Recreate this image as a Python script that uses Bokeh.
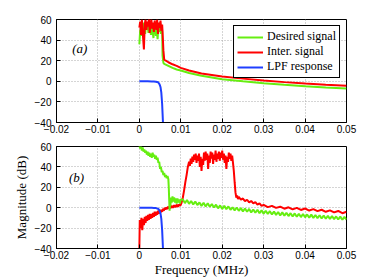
from bokeh.plotting import figure
from bokeh.models import Range1d, Legend, LegendItem
from bokeh.layouts import column
from bokeh.core.properties import value
from bokeh.embed import file_html
from bokeh.resources import INLINE

# ---------------- data ----------------
x_ticks = [-0.02, -0.01, 0.0, 0.01, 0.02, 0.03, 0.04, 0.05]
x_tick_labels = ["\u22120.02", "\u22120.01", "0", "0.01", "0.02", "0.03", "0.04", "0.05"]
y_ticks = [-40, -20, 0, 20, 40, 60]
y_tick_labels = ["\u221240", "\u221220", "0", "20", "40", "60"]

series_names = ["Desired signal", "Inter. signal", "LPF response"]
panel_labels = ["(a)", "(b)"]
panel_label_x = [-0.0162, -0.0170]
panel_label_y = [32, 30]

# panel (a): desired signal (frequency MHz, magnitude dB)
a_desired = [(0.0000, 36), (0.0002, 50), (0.0004, 44), (0.0006, 55), (0.0008, 49), (0.0010, 57),
             (0.0012, 52), (0.0014, 46), (0.0016, 56), (0.0018, 50), (0.0020, 54), (0.0022, 47),
             (0.0024, 57), (0.0026, 51), (0.0028, 45), (0.0030, 55), (0.0032, 49), (0.0034, 42),
             (0.0036, 53), (0.0038, 56), (0.0040, 44), (0.0042, 50), (0.0044, 41), (0.0046, 54),
             (0.0048, 48), (0.0050, 57), (0.0052, 46), (0.0054, 52), (0.0055, 49), (0.0056, 25),
             (0.0058, 18), (0.0060, 17), (0.0070, 15), (0.0080, 13), (0.0090, 11.5), (0.0100, 10.5),
             (0.0120, 8), (0.0150, 5.3), (0.0200, 2), (0.0250, 0), (0.0300, -1.8), (0.0350, -3.4),
             (0.0400, -4.8), (0.0450, -6), (0.0500, -7)]

# panel (a): interfering signal
a_interf = [(0.0000, 52), (0.0002, 58), (0.0004, 45), (0.0006, 60), (0.0008, 48), (0.0011, 31),
            (0.0013, 55), (0.0015, 60), (0.0017, 50), (0.0019, 58), (0.0021, 53), (0.0023, 61),
            (0.0025, 47), (0.0027, 56), (0.0029, 60), (0.0031, 51), (0.0033, 57), (0.0035, 48),
            (0.0037, 59), (0.0039, 54), (0.0041, 50), (0.0043, 60), (0.0045, 46), (0.0047, 57),
            (0.0049, 52), (0.0051, 59), (0.0053, 49), (0.0055, 55), (0.0056, 48), (0.0058, 30),
            (0.0060, 21), (0.0070, 18.5), (0.0080, 16.5), (0.0090, 15), (0.0100, 13),
            (0.0120, 10.5), (0.0150, 7.5), (0.0200, 4.7), (0.0250, 2.6), (0.0300, 0.8),
            (0.0350, -0.8), (0.0400, -2.2), (0.0450, -3.4), (0.0500, -4.4)]

# LPF response (both panels)
lpf = [(0.0000, 0), (0.0010, 0), (0.0020, 0), (0.0030, -0.1), (0.0035, -0.2), (0.0040, -0.4),
       (0.0045, -1.0), (0.0047, -1.8), (0.0049, -3.2), (0.0051, -5.5), (0.0053, -11),
       (0.0055, -22), (0.0056, -31), (0.0057, -40)]

# panel (b): desired signal
b_desired = [(0.0000, 61), (0.0002, 58), (0.0004, 60), (0.0006, 56), (0.0008, 59), (0.0010, 55),
             (0.0012, 57), (0.0014, 54), (0.0016, 56), (0.0018, 52), (0.0020, 55), (0.0022, 51),
             (0.0024, 54), (0.0026, 50), (0.0028, 53), (0.0030, 49), (0.0032, 54), (0.0034, 50),
             (0.0036, 52), (0.0038, 48), (0.0040, 51), (0.0042, 47), (0.0044, 49), (0.0046, 44),
             (0.0048, 45), (0.0050, 38), (0.0052, 40), (0.0054, 35), (0.0056, 36), (0.0058, 32),
             (0.0060, 34), (0.0062, 30), (0.0064, 32), (0.0066, 29), (0.0068, 31), (0.0070, 28),
             (0.0071, 20), (0.0072, 8), (0.0073, -3), (0.0074, 6), (0.0075, 2), (0.0076, 10),
             (0.0078, 5), (0.0080, 11), (0.0082, 6), (0.0084, 10), (0.0086, 5), (0.0088, 9),
             (0.0090, 4), (0.0092, 9), (0.0094, 5), (0.0096, 8), (0.0098, 4), (0.0100, 8),
             (0.0105, 8.0), (0.0110, 4.5), (0.0115, 7.5), (0.0120, 3.8), (0.0125, 6.6),
             (0.0130, 3.2), (0.0135, 6.0), (0.0140, 2.6), (0.0145, 5.2), (0.0150, 1.8),
             (0.0155, 4.8), (0.0160, 1.2), (0.0165, 4.4), (0.0170, 1.0), (0.0175, 3.6),
             (0.0180, 0.2), (0.0185, 3.0), (0.0190, -0.6), (0.0195, 2.2), (0.0200, -1.2),
             (0.0205, 1.8), (0.0210, -1.4), (0.0215, 1.2), (0.0220, -2.0), (0.0225, 0.4),
             (0.0230, -2.6), (0.0235, 0.2), (0.0240, -3.0), (0.0245, -0.4), (0.0250, -3.6),
             (0.0255, -0.8), (0.0260, -4.0), (0.0265, -1.2), (0.0270, -4.6), (0.0275, -1.8),
             (0.0280, -5.0), (0.0285, -2.0), (0.0290, -5.4), (0.0295, -2.6), (0.0300, -5.8),
             (0.0305, -3.0), (0.0310, -6.2), (0.0315, -3.4), (0.0320, -6.6), (0.0325, -3.8),
             (0.0330, -7.0), (0.0335, -4.2), (0.0340, -7.6), (0.0345, -4.6), (0.0350, -7.8),
             (0.0355, -5.0), (0.0360, -8.2), (0.0365, -5.4), (0.0370, -8.6), (0.0375, -5.6),
             (0.0380, -8.8), (0.0385, -6.0), (0.0390, -9.2), (0.0395, -6.2), (0.0400, -9.4),
             (0.0405, -6.6), (0.0410, -9.8), (0.0415, -6.8), (0.0420, -10.0), (0.0425, -7.2),
             (0.0430, -10.2), (0.0435, -7.4), (0.0440, -10.6), (0.0445, -7.6), (0.0450, -10.8),
             (0.0455, -8.0), (0.0460, -11.0), (0.0465, -8.2), (0.0470, -11.2), (0.0475, -8.6),
             (0.0480, -11.6), (0.0485, -8.8), (0.0490, -11.8), (0.0495, -9.0), (0.0500, -11.6)]

# panel (b): interfering signal
b_interf = [(0.0000, -40), (0.0001, -12), (0.0003, -20), (0.0005, -10), (0.0007, -22), (0.0009, -11),
            (0.0011, -17), (0.0013, -9), (0.0015, -15), (0.0017, -8), (0.0019, -13), (0.0021, -7),
            (0.0023, -12), (0.0025, -6), (0.0027, -11), (0.0029, -6), (0.0031, -10), (0.0033, -5),
            (0.0035, -9), (0.0037, -4), (0.0039, -8), (0.0041, -4), (0.0043, -7), (0.0045, -3),
            (0.0047, -6), (0.0049, -2), (0.0051, -5), (0.0053, -2), (0.0055, -4), (0.0057, -1),
            (0.0059, -3), (0.0061, 0), (0.0063, -2), (0.0065, 0.5), (0.0067, -1.5), (0.0069, 1),
            (0.0071, -1), (0.0073, 1.5), (0.0075, -0.5), (0.0078, 2), (0.0081, 0), (0.0084, 2.5),
            (0.0087, 0.5), (0.0090, 3), (0.0093, 1), (0.0096, 3), (0.0099, 2), (0.0102, 5),
            (0.0105, 10), (0.0108, 17), (0.0111, 25), (0.0114, 32), (0.0117, 40), (0.0120, 45),
            (0.0122, 41), (0.0124, 48), (0.0126, 43), (0.0128, 50), (0.0130, 45), (0.0132, 52),
            (0.0134, 47), (0.0136, 53), (0.0138, 44), (0.0140, 51), (0.0142, 46), (0.0144, 53),
            (0.0146, 40), (0.0148, 50), (0.0150, 36), (0.0152, 48), (0.0154, 42), (0.0156, 54),
            (0.0158, 46), (0.0160, 55), (0.0162, 47), (0.0164, 53), (0.0166, 38), (0.0168, 51),
            (0.0170, 44), (0.0172, 55), (0.0174, 48), (0.0176, 54), (0.0178, 43), (0.0180, 52),
            (0.0182, 47), (0.0184, 56), (0.0186, 45), (0.0188, 53), (0.0190, 48), (0.0192, 55),
            (0.0194, 46), (0.0196, 54), (0.0198, 49), (0.0200, 56), (0.0202, 47), (0.0204, 53),
            (0.0206, 44), (0.0208, 51), (0.0210, 38), (0.0212, 50), (0.0214, 45), (0.0216, 54),
            (0.0218, 48), (0.0220, 53), (0.0222, 46), (0.0224, 51), (0.0226, 44), (0.0228, 36),
            (0.0230, 25), (0.0232, 15), (0.0234, 10), (0.0236, 12), (0.0238, 8.5), (0.0240, 10.5),
            (0.0245, 8.0), (0.0250, 9.0), (0.0255, 6.5), (0.0260, 7.8), (0.0265, 5.2), (0.0270, 6.6),
            (0.0275, 4.2), (0.0280, 5.4), (0.0285, 3.0), (0.0290, 4.2), (0.0295, 1.8), (0.0300, 2.8),
            (0.0310, 0.6), (0.0320, 1.8), (0.0330, -0.2), (0.0340, 1.0), (0.0350, -1.0), (0.0360, 0.4),
            (0.0370, -1.6), (0.0380, -0.2), (0.0390, -2.2), (0.0400, -0.8), (0.0410, -2.8),
            (0.0420, -1.4), (0.0430, -3.4), (0.0440, -2.0), (0.0450, -4.0), (0.0460, -2.6),
            (0.0470, -4.6), (0.0480, -3.2), (0.0490, -5.4), (0.0500, -4.0)]

GREEN = "#66ee11"
RED = "#ff0000"
BLUE = "#1f3fff"
SANS = "Liberation Sans"
SERIF = "Liberation Serif"


def xy(pairs):
    return [p[0] for p in pairs], [p[1] for p in pairs]


def style_axis(ax):
    ax.major_tick_in = 4
    ax.major_tick_out = 0
    ax.minor_tick_line_color = None
    ax.axis_line_color = "black"
    ax.major_tick_line_color = "black"
    ax.major_label_text_font = SANS
    ax.major_label_text_font_size = "10px"
    ax.major_label_text_color = "black"
    ax.axis_label_text_font = SERIF
    ax.axis_label_text_font_size = "13px"
    ax.axis_label_text_font_style = "normal"
    ax.axis_label_text_color = "black"


def make_fig(height, top, bottom):
    p = figure(width=366, height=height, x_range=Range1d(-0.02, 0.05), y_range=Range1d(-40, 60),
               output_backend="svg", toolbar_location=None,
               min_border_left=56, min_border_right=20, min_border_top=top, min_border_bottom=bottom)
    p.outline_line_color = "black"
    p.outline_line_alpha = 1
    p.outline_line_width = 1
    p.background_fill_color = "white"
    p.border_fill_color = "white"
    p.xaxis.ticker = x_ticks
    p.yaxis.ticker = y_ticks
    p.xaxis.major_label_overrides = dict(zip(x_ticks, x_tick_labels))
    p.yaxis.major_label_overrides = dict(zip(y_ticks, y_tick_labels))
    style_axis(p.xaxis[0])
    style_axis(p.yaxis[0])
    p.xaxis.major_label_standoff = 2
    p.yaxis.major_label_standoff = 5
    for g in (p.xgrid[0], p.ygrid[0]):
        g.grid_line_color = "#aaaaaa"
        g.grid_line_dash = "1 2"
        g.grid_line_width = 1
    return p


# ---------------- panel (a) ----------------
p1 = make_fig(142, 19, 20)
fx, fy = xy(a_desired)
r_g = p1.line(fx, fy, line_color=GREEN, line_width=2)
fx, fy = xy(a_interf)
r_r = p1.line(fx, fy, line_color=RED, line_width=2)
fx, fy = xy(lpf)
r_b = p1.line(fx, fy, line_color=BLUE, line_width=2)
p1.text(x=[panel_label_x[0]], y=[panel_label_y[0]], text=[panel_labels[0]],
        text_font=value(SERIF), text_font_style="italic", text_font_size="13px",
        text_baseline="middle", text_align="left", text_color="black")

legend = Legend(items=[LegendItem(label=series_names[0], renderers=[r_g]),
                       LegendItem(label=series_names[1], renderers=[r_r]),
                       LegendItem(label=series_names[2], renderers=[r_b])],
                location="top_right")
legend.label_text_font = SERIF
legend.label_text_font_size = "12px"
legend.label_text_color = "black"
legend.border_line_color = "black"
legend.border_line_width = 1
legend.border_line_alpha = 1
legend.background_fill_color = "white"
legend.background_fill_alpha = 1
legend.glyph_width = 26
legend.glyph_height = 12
legend.label_height = 12
legend.label_standoff = 4
legend.spacing = 0
legend.padding = 3
legend.margin = 6
p1.add_layout(legend)

# ---------------- panel (b) ----------------
p2 = make_fig(137, 4, 29)
fx, fy = xy(b_interf)
p2.line(fx, fy, line_color=RED, line_width=2)
fx, fy = xy(b_desired)
p2.line(fx, fy, line_color=GREEN, line_width=2)
fx, fy = xy(lpf)
p2.line(fx, fy, line_color=BLUE, line_width=2)
p2.text(x=[panel_label_x[1]], y=[panel_label_y[1]], text=[panel_labels[1]],
        text_font=value(SERIF), text_font_style="italic", text_font_size="13px",
        text_baseline="middle", text_align="left", text_color="black")
p2.xaxis.axis_label = "Frequency (MHz)"
p2.yaxis.axis_label = "Magnitude (dB)"
p2.xaxis.axis_label_standoff = 0
p2.yaxis.axis_label_standoff = 3

layout = column(p1, p2, spacing=0)
open("out.html", "w").write(file_html(layout, INLINE))
